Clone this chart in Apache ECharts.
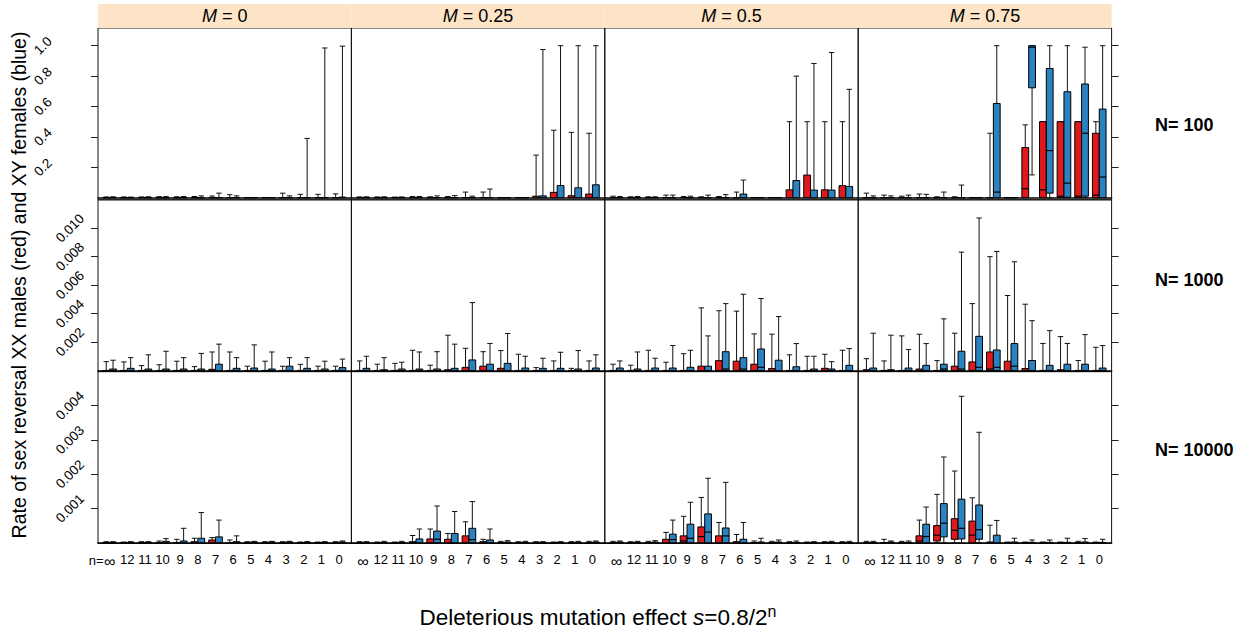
<!DOCTYPE html>
<html><head><meta charset="utf-8">
<script src="https://cdn.jsdelivr.net/npm/echarts@6/dist/echarts.min.js"></script>
<style>html,body{margin:0;padding:0;background:#fff}#c{width:1250px;height:634px}</style>
</head><body><div id="c"></div>
<script>
// ---------- labels ----------
const cats = ['∞','12','11','10','9','8','7','6','5','4','3','2','1','0'];
const colLabels = ['0','0.25','0.5','0.75'];
const rowLabels = ['N= 100','N= 1000','N= 10000'];
const yTicks = [[0.2,0.4,0.6,0.8,1.0],[0.002,0.004,0.006,0.008,0.010],[0.001,0.002,0.003,0.004]];
const yTickText = [['0.2','0.4','0.6','0.8','1.0'],['0.002','0.004','0.006','0.008','0.010'],['0.001','0.002','0.003','0.004']];
const yRange = [[-0.0138,1.1164],[-0.00008,0.0120],[-0.00002,0.00499]];

// ---------- data: each box = [lowWhisker, q1, median, q3, highWhisker] ----------
// N = 100
const n100_m0_red = [[0,0,0,0,.005],[0,0,0,0,.005],[0,0,0,0,.005],[0,0,0,0,.007],[0,0,0,0,.006],[0,0,0,0,.008],[0,0,0,0,.011],[0,0,0,0,.02],[0,0,0,0,0],[0,0,0,0,0],[0,0,0,0,.03],[0,0,0,0,.022],[0,0,0,0,.022],[0,0,0,0,.025]];
const n100_m0_blue = [[0,0,0,0,.006],[0,0,0,0,.004],[0,0,0,0,.006],[0,0,0,0,.007],[0,0,0,0,.008],[0,0,0,0,.012],[0,0,0,0,.03],[0,0,0,0,.012],[0,0,0,0,0],[0,0,0,0,0],[0,0,0,0,.012],[0,0,0,0,.39],[0,0,0,0,.985],[0,0,0,.004,.997]];
const n100_m025_red = [[0,0,0,0,.005],[0,0,0,0,.005],[0,0,0,0,.004],[0,0,0,0,.008],[0,0,0,0,.006],[0,0,0,0,.008],[0,0,0,0,.037],[0,0,0,0,.037],[0,0,0,0,0],[0,0,0,0,0],[0,0,0,.01,.28],[0,0,0,.035,.444],[0,0,0,.013,.43],[0,0,0,.024,.424]];
const n100_m025_blue = [[0,0,0,0,.006],[0,0,0,0,.006],[0,0,0,0,.005],[0,0,0,0,.008],[0,0,0,0,.012],[0,0,0,0,.014],[0,0,0,0,.01],[0,0,0,0,.057],[0,0,0,0,0],[0,0,0,0,0],[0,0,0,.012,.975],[0,0,0,.08,1.0],[0,0,0,.065,1.0],[0,0,0,.085,1.0]];
const n100_m05_red = [[0,0,0,0,.01],[0,0,0,0,.006],[0,0,0,0,.006],[0,0,0,0,.017],[0,0,0,0,.008],[0,0,0,0,.006],[0,0,0,0,.008],[0,0,0,0,.037],[0,0,0,0,0],[0,0,0,0,0],[0,0,0,.052,.5],[0,0,0,.149,.5],[0,0,0,.052,.5],[0,0,0,.079,.5]];
const n100_m05_blue = [[0,0,0,0,.008],[0,0,0,0,.008],[0,0,0,0,.006],[0,0,0,0,.017],[0,0,0,0,.01],[0,0,0,0,.017],[0,0,0,0,.02],[0,0,0,.024,.116],[0,0,0,0,0],[0,0,0,0,0],[0,0,0,.113,.8],[0,0,0,.05,.883],[0,0,0,.05,.955],[0,0,0,.074,.713]];
const n100_m075_red = [[0,0,0,0,.03],[0,0,0,0,.017],[0,0,0,0,.01],[0,0,0,0,.024],[0,0,0,0,.006],[0,0,0,0,.006],[0,0,0,0,0],[0,0,0,0,.424],[0,0,0,0,0],[0,0,.059,.33,.479],[0,0,.052,.5,.5],[0,0,.009,.5,.5],[0,0,.01,.5,.5],[0,0,.017,.424,.5]];
const n100_m075_blue = [[0,0,0,0,.012],[0,0,0,0,.012],[0,0,0,0,.017],[0,0,0,0,.022],[0,0,0,0,.037],[0,0,0,0,.083],[0,0,0,0,0],[0,0,.037,.62,1.0],[0,0,0,0,0],[.15,.723,.99,1.0,1.0],[0,.03,.31,.85,1.0],[0,.003,.096,.697,1.0],[0,.01,.424,.748,.99],[0,0,.136,.583,1.0]];
// N = 1000
const n1000_m0_red = [[0,0,0,0,.00062],[0,0,0,0,.0006],[0,0,0,0,.00034],[0,0,0,0,.0004],[0,0,0,0,.00065],[0,0,0,0,.00027],[0,0,0,.00008,.0013],[0,0,0,0,.0013],[0,0,0,0,.0003],[0,0,0,0,.00065],[0,0,0,0,.0003],[0,0,0,0,.00043],[0,0,0,0,.0003],[0,0,0,0,.0003]];
const n1000_m0_blue = [[0,0,0,.0001,.00072],[0,0,0,.00015,.0009],[0,0,0,.0001,.0011],[0,0,0,.0001,.00135],[0,0,0,.0001,.0009],[0,0,0,.0001,.0012],[0,0,0,.00044,.00185],[0,0,0,.00015,.0009],[0,0,0,.00017,.0018],[0,0,0,.0001,.0013],[0,0,0,.0003,.0009],[0,0,0,.00015,.0009],[0,0,0,.0001,.00065],[0,0,0,.0002,.0008]];
const n1000_m025_red = [[0,0,0,0,.00067],[0,0,0,0,.00044],[0,0,0,0,.0005],[0,0,0,0,.00142],[0,0,0,0,.00037],[0,0,0,.00005,.00248],[0,0,0,.00022,.00156],[0,0,0,.0003,.00132],[0,0,0,.00015,.0014],[0,0,0,0,.00114],[0,0,0,0,.0002],[0,0,0,0,.00067],[0,0,0,0,.00015],[0,0,0,0,.00067]];
const n1000_m025_blue = [[0,0,0,.00015,.001],[0,0,0,.00005,.0009],[0,0,0,.0001,.00058],[0,0,0,.0001,.0013],[0,0,0,.0001,.00132],[0,0,0,.00015,.00185],[0,0,0,.00074,.00477],[0,0,0,.00044,.0019],[0,0,0,.0005,.0026],[0,0,0,.00017,.001],[0,0,0,.00015,.00086],[0,0,0,.00015,.00128],[0,0,0,.0001,.0014],[0,0,0,.00017,.0011]];
const n1000_m05_red = [[0,0,0,0,.00044],[0,0,0,0,.00037],[0,0,0,0,.00142],[0,0,0,0,.00058],[0,0,0,0,.00118],[0,0,0,.0003,.0044],[0,0,0,.00069,.0042],[0,0,0,.00065,.00417],[0,0,0,.00044,.00257],[0,0,0,.00013,.00255],[0,0,0,0,.0011],[0,0,0,0,.001],[0,0,0,.00015,.00114],[0,0,0,0,.00142]];
const n1000_m05_blue = [[0,0,0,.00017,.00067],[0,0,0,.0001,.0013],[0,0,0,.00017,.00086],[0,0,0,.00017,.00175],[0,0,0,.00022,.00142],[0,0,0,.0003,.00243],[0,0,.0001,.00132,.0047],[0,0,.0001,.0009,.00536],[0,0,.00022,.00151,.00506],[0,0,0,.00072,.00379],[0,0,0,.00026,.00189],[0,0,0,.0001,.001],[0,0,0,.0001,.00062],[0,0,0,.00036,.00154]];
const n1000_m075_red = [[0,0,0,.00005,.00083],[0,0,0,0,.00067],[0,0,0,0,.00243],[0,0,0,.0001,.00255],[0,0,0,0,.00069],[0,0,0,.0003,.00262],[0,0,0,.0006,.0047],[0,0,.0001,.0013,.008],[0,0,0,.00065,.00527],[0,0,0,.00013,.00466],[0,0,0,0,.0019],[0,0,0,.00005,.00238],[0,0,0,0,.0007],[0,0,0,0,.00163]];
const n1000_m075_blue = [[0,0,0,.00017,.00262],[0,0,0,.00005,.00248],[0,0,0,.00017,.00147],[0,0,0,.00036,.00189],[0,0,.0001,.00044,.00363],[0,0,.0001,.00135,.00832],[0,0,.00022,.0024,.01072],[0,0,.00022,.00144,.00837],[0,0,.0003,.00189,.00764],[0,0,0,.0007,.0035],[0,0,0,.00036,.0028],[0,0,0,.00044,.0019],[0,0,0,.00044,.00252],[0,0,0,.00017,.00175]];
// N = 10000
const n10000_m0_red = [[0,0,0,0,.00003],[0,0,0,0,.00002],[0,0,0,0,.00003],[0,0,0,0,.00005],[0,0,0,0,.0001],[0,0,0,.00003,.00013],[0,0,0,.00008,.00015],[0,0,0,0,.00008],[0,0,0,0,.00003],[0,0,0,0,.00003],[0,0,0,0,.00003],[0,0,0,0,.00002],[0,0,0,0,.00002],[0,0,0,0,.00003]];
const n10000_m0_blue = [[0,0,0,.00001,.00003],[0,0,0,.00001,.00003],[0,0,0,.00001,.00003],[0,0,0,.00004,.00012],[0,0,0,.00005,.00042],[0,0,0,.00013,.00088],[0,0,0,.00017,.00066],[0,0,0,.00003,.0002],[0,0,0,.00002,.00004],[0,0,0,.00002,.00004],[0,0,0,.00002,.00004],[0,0,0,.00001,.00003],[0,0,0,.00001,.00003],[0,0,0,.00002,.00005]];
const n10000_m025_red = [[0,0,0,0,.00003],[0,0,0,0,.00002],[0,0,0,0,.00002],[0,0,0,.00003,.00021],[0,0,0,.00011,.0004],[0,0,0,.0001,.00027],[0,0,0,.0002,.00061],[0,0,0,.00003,.0001],[0,0,0,0,.00004],[0,0,0,0,.00003],[0,0,0,0,.00003],[0,0,0,0,.00002],[0,0,0,0,.00003],[0,0,0,0,.00004]];
const n10000_m025_blue = [[0,0,0,.00001,.00003],[0,0,0,.00001,.00004],[0,0,0,.00001,.00004],[0,0,0,.00011,.0004],[0,0,.0001,.00034,.00107],[0,0,0,.00027,.00091],[0,0,.00009,.00042,.0012],[0,0,0,.00008,.0004],[0,0,0,.00002,.00006],[0,0,0,.00001,.00004],[0,0,0,.00001,.00003],[0,0,0,.00001,.00003],[0,0,0,.00001,.00004],[0,0,0,.00002,.00005]];
const n10000_m05_red = [[0,0,0,0,.00004],[0,0,0,0,.00003],[0,0,0,0,.00004],[0,0,0,.0001,.0003],[0,0,.00005,.0002,.00077],[0,0,.00018,.00046,.00132],[0,0,0,.0002,.00059],[0,0,0,.00003,.00024],[0,0,0,0,.00005],[0,0,0,0,.00004],[0,0,0,0,.00003],[0,0,0,0,.00002],[0,0,0,0,.00003],[0,0,0,0,.00003]];
const n10000_m05_blue = [[0,0,0,.00002,.00005],[0,0,0,.00001,.00004],[0,0,0,.00002,.00006],[0,0,.00009,.00025,.00066],[0,0,.00013,.00054,.00118],[0,0,.00031,.00084,.00188],[0,0,.0002,.00043,.00176],[0,0,0,.0001,.00059],[0,0,0,.00002,.00013],[0,0,0,.00002,.00008],[0,0,0,.00001,.00005],[0,0,0,.00001,.00003],[0,0,0,.00001,.00004],[0,0,0,.00001,.00004]];
const n10000_m075_red = [[0,0,0,0,.00004],[0,0,0,0,.0001],[0,0,0,0,.00004],[0,0,.00005,.0002,.00066],[0,.00005,.00022,.0005,.00141],[0,.0001,.00036,.0007,.00209],[0,0,.00022,.00063,.00131],[0,0,0,.00002,.00051],[0,0,0,0,.00002],[0,0,0,0,.00002],[0,0,0,0,.00002],[0,0,0,0,.00002],[0,0,0,0,.00004],[0,0,0,0,.00002]];
const n10000_m075_blue = [[0,0,0,.00001,.00004],[0,0,0,.00002,.00005],[0,0,0,.00001,.00005],[0,0,.00018,.00054,.00104],[0,.00017,.00057,.00114,.0025],[0,.00011,.00042,.00127,.00427],[0,.0001,.00038,.0011,.00322],[0,0,0,.00022,.00065],[0,0,0,.00002,.00013],[0,0,0,.00001,.00008],[0,0,0,.00001,.00008],[0,0,0,.00001,.00013],[0,0,0,.00002,.00012],[0,0,0,.00001,.0001]];

const panels = [
  [[n100_m0_red,n100_m0_blue],[n100_m025_red,n100_m025_blue],[n100_m05_red,n100_m05_blue],[n100_m075_red,n100_m075_blue]],
  [[n1000_m0_red,n1000_m0_blue],[n1000_m025_red,n1000_m025_blue],[n1000_m05_red,n1000_m05_blue],[n1000_m075_red,n1000_m075_blue]],
  [[n10000_m0_red,n10000_m0_blue],[n10000_m025_red,n10000_m025_blue],[n10000_m05_red,n10000_m05_blue],[n10000_m075_red,n10000_m075_blue]]
];

// ---------- layout / style ----------
const FONT = '"Liberation Sans", Arial, Helvetica, sans-serif';
const L = {left: 98, top: 28, colW: 253.4, rowH: 171.8, stripTop: 4};
const X_MIN = -0.66, X_MAX = 13.70;
const RED = '#E0191D', BLUE = '#2B82C0';
const HALF = 3.4, CAP = 2.7;
const yLabelMargin = [55, 28, 28];

function boxRenderer(side, color) {
  return function (params, api) {
    const k = api.value(0);
    const lo = api.value(1), q1 = api.value(2), med = api.value(3), q3 = api.value(4), hi = api.value(5);
    const cx = api.coord([k, 0])[0] + side * HALF;
    const y = v => api.coord([k, v])[1];
    const ln = {stroke: '#111', lineWidth: 1};
    const ch = [];
    if (hi > q3) ch.push({type: 'line', shape: {x1: cx, y1: y(q3), x2: cx, y2: y(hi)}, style: ln});
    if (hi > 0) ch.push({type: 'line', shape: {x1: cx - CAP, y1: y(hi), x2: cx + CAP, y2: y(hi)}, style: ln});
    if (lo < q1) {
      ch.push({type: 'line', shape: {x1: cx, y1: y(q1), x2: cx, y2: y(lo)}, style: ln});
      ch.push({type: 'line', shape: {x1: cx - CAP, y1: y(lo), x2: cx + CAP, y2: y(lo)}, style: ln});
    }
    ch.push({type: 'rect', shape: {x: cx - HALF, y: y(q3), width: 2 * HALF, height: Math.max(0, y(q1) - y(q3))},
      style: {fill: color, stroke: '#000', lineWidth: 1}});
    if (med > q1) ch.push({type: 'line', shape: {x1: cx - HALF, y1: y(med), x2: cx + HALF, y2: y(med)}, style: {stroke: '#000', lineWidth: 1.2}});
    return {type: 'group', children: ch};
  };
}

const grid = [], xAxis = [], yAxis = [], series = [];
for (let r = 0; r < 3; r++) {
  for (let c = 0; c < 4; c++) {
    const gi = r * 4 + c;
    grid.push({left: L.left + c * L.colW, top: L.top + r * L.rowH, width: L.colW, height: L.rowH,
      show: true, borderColor: '#111', borderWidth: 1, backgroundColor: 'transparent'});
    xAxis.push({
      type: 'value', gridIndex: gi, min: X_MIN, max: X_MAX, position: 'bottom',
      axisLine: {show: true, onZero: true, lineStyle: {color: '#000', width: 1.6}},
      axisTick: {show: false}, splitLine: {show: false},
      axisLabel: {
        show: r === 2, customValues: cats.map((_, i) => i), margin: 10,
        fontFamily: FONT, fontSize: 13, color: '#000',
        formatter: v => v === 0 ? '{inf|∞}' : cats[v],
        rich: {inf: {fontSize: 16, fontFamily: FONT, color: '#000'}}
      }
    });
    yAxis.push({
      type: 'value', gridIndex: gi, min: yRange[r][0], max: yRange[r][1],
      position: c === 3 ? 'right' : 'left',
      axisLine: {show: false, onZero: false}, splitLine: {show: false},
      axisTick: {show: c === 0 || c === 3, customValues: yTicks[r], length: 7, lineStyle: {color: '#222'}},
      axisLabel: {show: c === 0, customValues: yTicks[r], rotate: 45, margin: yLabelMargin[r],
        align: 'center', verticalAlign: 'middle',
        fontFamily: FONT, fontSize: 13.5, color: '#000',
        formatter: v => { const i = yTicks[r].findIndex(t => Math.abs(t - v) < 1e-9); return i >= 0 ? yTickText[r][i] : ''; }}
    });
    const pair = panels[r][c];
    [[pair[0], -1, RED], [pair[1], 1, BLUE]].forEach(([arr, side, color]) => {
      series.push({
        type: 'custom', xAxisIndex: gi, yAxisIndex: gi, clip: false, silent: true,
        renderItem: boxRenderer(side, color),
        encode: {x: 0, y: [1, 2, 3, 4, 5]},
        data: arr.map((t, i) => [i].concat(t))
      });
    });
  }
}

const graphic = [];
colLabels.forEach((m, c) => {
  graphic.push({type: 'rect', left: L.left + c * L.colW, top: L.stripTop,
    shape: {width: L.colW, height: L.top - L.stripTop}, style: {fill: '#FDE4C7'}, silent: true});
  graphic.push({type: 'text', x: L.left + c * L.colW + L.colW / 2, y: 16,
    style: {text: '{i|M} = ' + m, textAlign: 'center', textVerticalAlign: 'middle',
      font: '18px ' + FONT, fill: '#000', rich: {i: {fontStyle: 'italic', fontSize: 18, fontFamily: FONT}}}});
});
// "n=" prefix in front of the first category label of the first column
graphic.push({type: 'text', x: L.left + (0 - X_MIN) / (X_MAX - X_MIN) * L.colW - 6, y: L.top + 3 * L.rowH + 17,
  style: {text: 'n=', textAlign: 'right', textVerticalAlign: 'middle', font: '13px ' + FONT, fill: '#000'}});
const nY = [125, 280, 450];
rowLabels.forEach((t, r) => {
  graphic.push({type: 'text', x: 1155, y: nY[r],
    style: {text: t, textAlign: 'left', textVerticalAlign: 'middle', font: 'bold 18px ' + FONT, fill: '#000'}});
});
graphic.push({type: 'text', x: 19, y: 285, rotation: Math.PI / 2,
  style: {text: 'Rate of sex reversal XX males (red) and XY females (blue)', textAlign: 'center', textVerticalAlign: 'middle',
    font: '19.5px ' + FONT, fill: '#000'}});
graphic.push({type: 'text', x: 598, y: 617,
  style: {text: 'Deleterious mutation effect {i|s}=0.8/2{sup|n}', textAlign: 'center', textVerticalAlign: 'middle',
    font: '22.5px ' + FONT, fill: '#000',
    rich: {i: {fontStyle: 'italic', fontSize: 22.5, fontFamily: FONT, lineHeight: 28},
           sup: {fontSize: 16, fontFamily: FONT, verticalAlign: 'top', lineHeight: 14}}}});

const chart = echarts.init(document.getElementById('c'), null, {renderer: 'svg'});
chart.setOption({
  animation: false, backgroundColor: '#fff',
  grid, xAxis, yAxis, series, graphic
});
</script></body></html>
